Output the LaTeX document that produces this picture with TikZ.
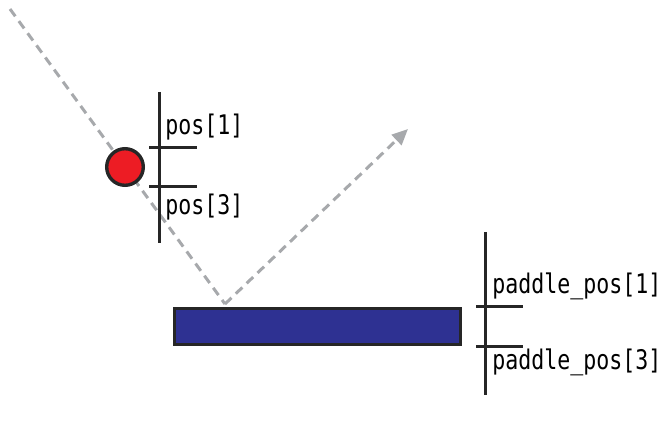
\documentclass[tikz,border=0pt]{standalone}
\usepackage{fontspec}
\setmonofont[FakeStretch=0.8]{DejaVu Sans Mono}
\usepackage{tikz}
\usetikzlibrary{arrows.meta,positioning}
\definecolor{ball-red}{RGB}{237,28,36}
\definecolor{paddle-blue}{RGB}{46,49,146}
\definecolor{path-grey}{RGB}{167,169,172}

\begin{document}
\begin{tikzpicture}[x=0.5pt, y=-0.5pt, >={Triangle[length=8pt,width=7pt]},
	   font=\fontsize{13.5}{15}\selectfont\ttfamily,
	   traj/.style={path-grey, line width=1.5pt, dash pattern=on 4.5pt off 3pt},
	   axis/.style={line width=1.5pt, black!85},
	   lbl/.style={anchor=base west, inner sep=0pt}]
	  \useasboundingbox (0,0) rectangle (664,422);
	  \coordinate (start) at (10,9);
	  \coordinate (hit) at (225,304);
	  \coordinate (tip) at (408,129);
	  \draw[traj] (start) -- (hit);
	  \draw[traj, ->] (hit) -- (tip);
	  \node[draw=black!85, line width=1.7pt, fill=ball-red, circle, inner sep=0pt, minimum size=18.3pt] (ball) at (125,167) {};
	  \node[draw=black!85, line width=1.6pt, fill=paddle-blue, inner sep=0pt, minimum width=143pt, minimum height=18pt] (paddle) at (317.5,326.5) {};
	  % ball axis
	  \draw[axis] (159,92) -- (159,243);
	  \draw[axis] (149,148) -- (197,148);
	  \draw[axis] (149,187) -- (197,187);
	  \node[lbl] (pos1) at (165,135) {pos[1]};
	  \node[lbl] (pos3) at (165,215) {pos[3]};
	  % paddle axis
	  \draw[axis] (485,232) -- (485,395);
	  \draw[axis] (476,307) -- (523,307);
	  \draw[axis] (476,346) -- (523,346);
	  \node[lbl] (ppos1) at (492,293) {paddle\_pos[1]};
	  \node[lbl] (ppos3) at (492,369) {paddle\_pos[3]};
	\end{tikzpicture}
\end{document}
